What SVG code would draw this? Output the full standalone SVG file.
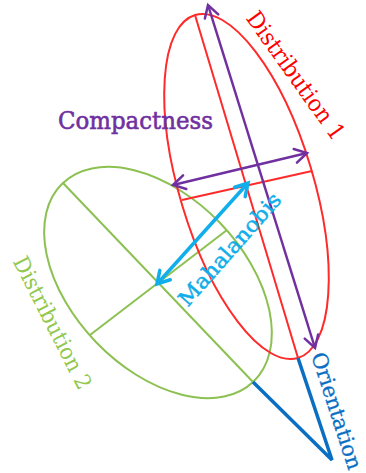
<svg xmlns="http://www.w3.org/2000/svg" width="366" height="473" viewBox="0 0 366 473">
<style>
  .lbl { font-family: "DejaVu Serif", "Liberation Serif", serif; }
  .ax { fill: none; stroke-width: 2; }
  .red { stroke: #FF2A2A; }
  .green { stroke: #8CC152; }
  .purple { stroke: #7030A0; stroke-width: 2.5; fill: none; }
  .cyan { stroke: #10AEEA; stroke-width: 3.5; fill: none; }
  .dblue { stroke: #0A6FC2; stroke-width: 3.5; fill: none; stroke-linejoin: miter; }
</style>
<defs>
  <marker id="mp" markerUnits="userSpaceOnUse" markerWidth="30" markerHeight="30" viewBox="-15 -15 30 30" refX="0" refY="0" orient="auto-start-reverse">
    <path d="M-12,-7 L0,0 L-12,7" fill="none" stroke="#7030A0" stroke-width="2.5" stroke-linecap="round"/>
  </marker>
  <marker id="mc" markerUnits="userSpaceOnUse" markerWidth="30" markerHeight="30" viewBox="-15 -15 30 30" refX="0" refY="0" orient="auto-start-reverse">
    <path d="M-12,-7 L0,0 L-12,7" fill="none" stroke="#10AEEA" stroke-width="3.5" stroke-linecap="round"/>
  </marker>
</defs>
<rect width="366" height="473" fill="#FFFFFF"/>
<g id="distribution2">
  <ellipse class="ax green" cx="158" cy="282.5" rx="137.6" ry="86" transform="rotate(46 158 282.5)"/>
  <line class="ax green" x1="63" y1="183" x2="253" y2="382"/>
  <line class="ax green" x1="90" y1="335" x2="227" y2="230"/>
  <text class="lbl" fill="#92C84E" font-size="22" text-anchor="middle" x="0" y="7" textLength="146" lengthAdjust="spacingAndGlyphs" transform="translate(52 323) rotate(63)">Distribution 2</text>
</g>
<g id="distribution1">
  <ellipse class="ax red" cx="246.5" cy="186.5" rx="179" ry="67" transform="rotate(73.3 246.5 186.5)"/>
  <line class="ax red" x1="195" y1="15" x2="298" y2="358"/>
  <line class="ax red" x1="182" y1="200" x2="312" y2="171"/>
  <text class="lbl" fill="#FF0000" font-size="23" text-anchor="middle" x="0" y="7" textLength="152" lengthAdjust="spacingAndGlyphs" transform="translate(295 76) rotate(54.5)">Distribution 1</text>
</g>
<g id="connectors">
  <g id="orientation">
    <polyline class="dblue" points="298,358 332,460 253,382"/>
    <line class="purple" x1="208" y1="5" x2="315" y2="348" marker-start="url(#mp)" marker-end="url(#mp)"/>
    <text class="lbl" fill="#0A6FC2" stroke="#0A6FC2" stroke-width="0.3" font-size="21" text-anchor="middle" x="0" y="7" textLength="122" lengthAdjust="spacingAndGlyphs" transform="translate(336.5 411) rotate(72)">Orientation</text>
  </g>
  <g id="compactness">
    <line class="purple" x1="173" y1="185" x2="307" y2="153" marker-start="url(#mp)" marker-end="url(#mp)"/>
    <text class="lbl" fill="#7030A0" stroke="#7030A0" stroke-width="0.6" font-size="24" x="58" y="129" textLength="155" lengthAdjust="spacingAndGlyphs">Compactness</text>
  </g>
  <g id="mahalanobis">
    <line class="cyan" x1="248" y1="183" x2="157" y2="284" marker-start="url(#mc)" marker-end="url(#mc)"/>
    <text class="lbl" fill="#10AEEA" stroke="#10AEEA" stroke-width="0.5" font-size="21" text-anchor="middle" x="0" y="7" textLength="143" lengthAdjust="spacingAndGlyphs" transform="translate(230 249.5) rotate(-48.5)">Mahalanobis</text>
  </g>
</g>
</svg>
